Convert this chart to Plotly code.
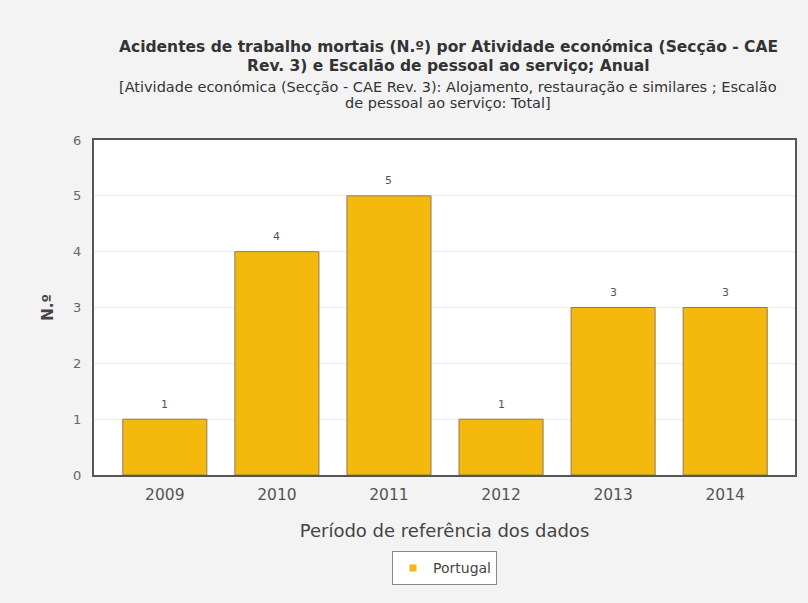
import plotly.graph_objects as go

# Fatal work accidents, accommodation & food services, Portugal
years = ["2009", "2010", "2011", "2012", "2013", "2014"]
values = [1, 4, 5, 1, 3, 3]
series_name = "Portugal"

title_lines = [
    "Acidentes de trabalho mortais (N.º) por Atividade económica (Secção - CAE",
    "Rev. 3) e Escalão de pessoal ao serviço; Anual",
]
subtitle_lines = [
    "[Atividade económica (Secção - CAE Rev. 3): Alojamento, restauração e similares ; Escalão",
    "de pessoal ao serviço: Total]",
]

font_family = "DejaVu Sans, Verdana, sans-serif"
bar_color = "#F5B90D"

fig = go.Figure()
fig.add_trace(
    go.Bar(
        x=years,
        y=values,
        name=series_name,
        marker=dict(color=bar_color, line=dict(color="#8C7C55", width=1)),
        width=0.75,
        showlegend=False,
    )
)
# small square legend key for the series
fig.add_trace(
    go.Scatter(
        x=[years[0]], y=[None], mode="markers", name=series_name,
        marker=dict(symbol="square", size=7, color=bar_color),
        showlegend=True, hoverinfo="skip",
    )
)

annotations = []
# value labels above each bar (category axis positions are serial indices)
for i, v in enumerate(values):
    annotations.append(dict(
        x=i, y=v, xref="x", yref="y", text=str(v), showarrow=False,
        xanchor="center", yanchor="middle", yshift=15,
        font=dict(size=11, color="#555555", family=font_family),
    ))
# title and subtitle lines
for txt, yp in zip(title_lines, [1.2776, 1.2209]):
    annotations.append(dict(
        text="<b>" + txt + "</b>", x=0.505, y=yp, xref="paper", yref="paper",
        showarrow=False, xanchor="center", yanchor="middle",
        font=dict(size=15.5, color="#333333", family=font_family),
    ))
for txt, yp in zip(subtitle_lines, [1.1582, 1.1104]):
    annotations.append(dict(
        text=txt, x=0.505, y=yp, xref="paper", yref="paper",
        showarrow=False, xanchor="center", yanchor="middle",
        font=dict(size=14.5, color="#333333", family=font_family),
    ))

fig.update_layout(
    width=808,
    height=603,
    margin=dict(l=94, r=11, t=140, b=128),
    paper_bgcolor="#F3F3F3",
    plot_bgcolor="#FFFFFF",
    font=dict(family=font_family, color="#444444"),
    showlegend=True,
    legend=dict(
        orientation="h",
        x=0.5, xanchor="center",
        y=-0.228, yanchor="top",
        bgcolor="#FFFFFF",
        bordercolor="#888888",
        borderwidth=1,
        font=dict(size=14, color="#444444", family=font_family),
        itemwidth=30,
    ),
    annotations=annotations,
)

fig.update_xaxes(
    type="category", categoryorder="array", categoryarray=years,
    range=[-0.632, len(years) - 0.377],
    showline=True, linecolor="#555555", linewidth=2, mirror=True,
    ticks="outside", ticklen=4, tickcolor="rgba(0,0,0,0)",
    tickfont=dict(size=15.5, color="#555555"),
    title=dict(text="Período de referência dos dados",
               font=dict(size=18, color="#444444"), standoff=22),
)
fig.update_yaxes(
    range=[0, 6], dtick=1,
    showline=True, linecolor="#555555", linewidth=2, mirror=True,
    gridcolor="#EBEBEB", gridwidth=1,
    zeroline=False,
    ticks="outside", ticklen=8, tickcolor="rgba(0,0,0,0)",
    tickfont=dict(size=13, color="#666666"),
    title=dict(text="<b>N.º</b>", font=dict(size=15, color="#444444"), standoff=16),
)

fig.write_html("out.html")
